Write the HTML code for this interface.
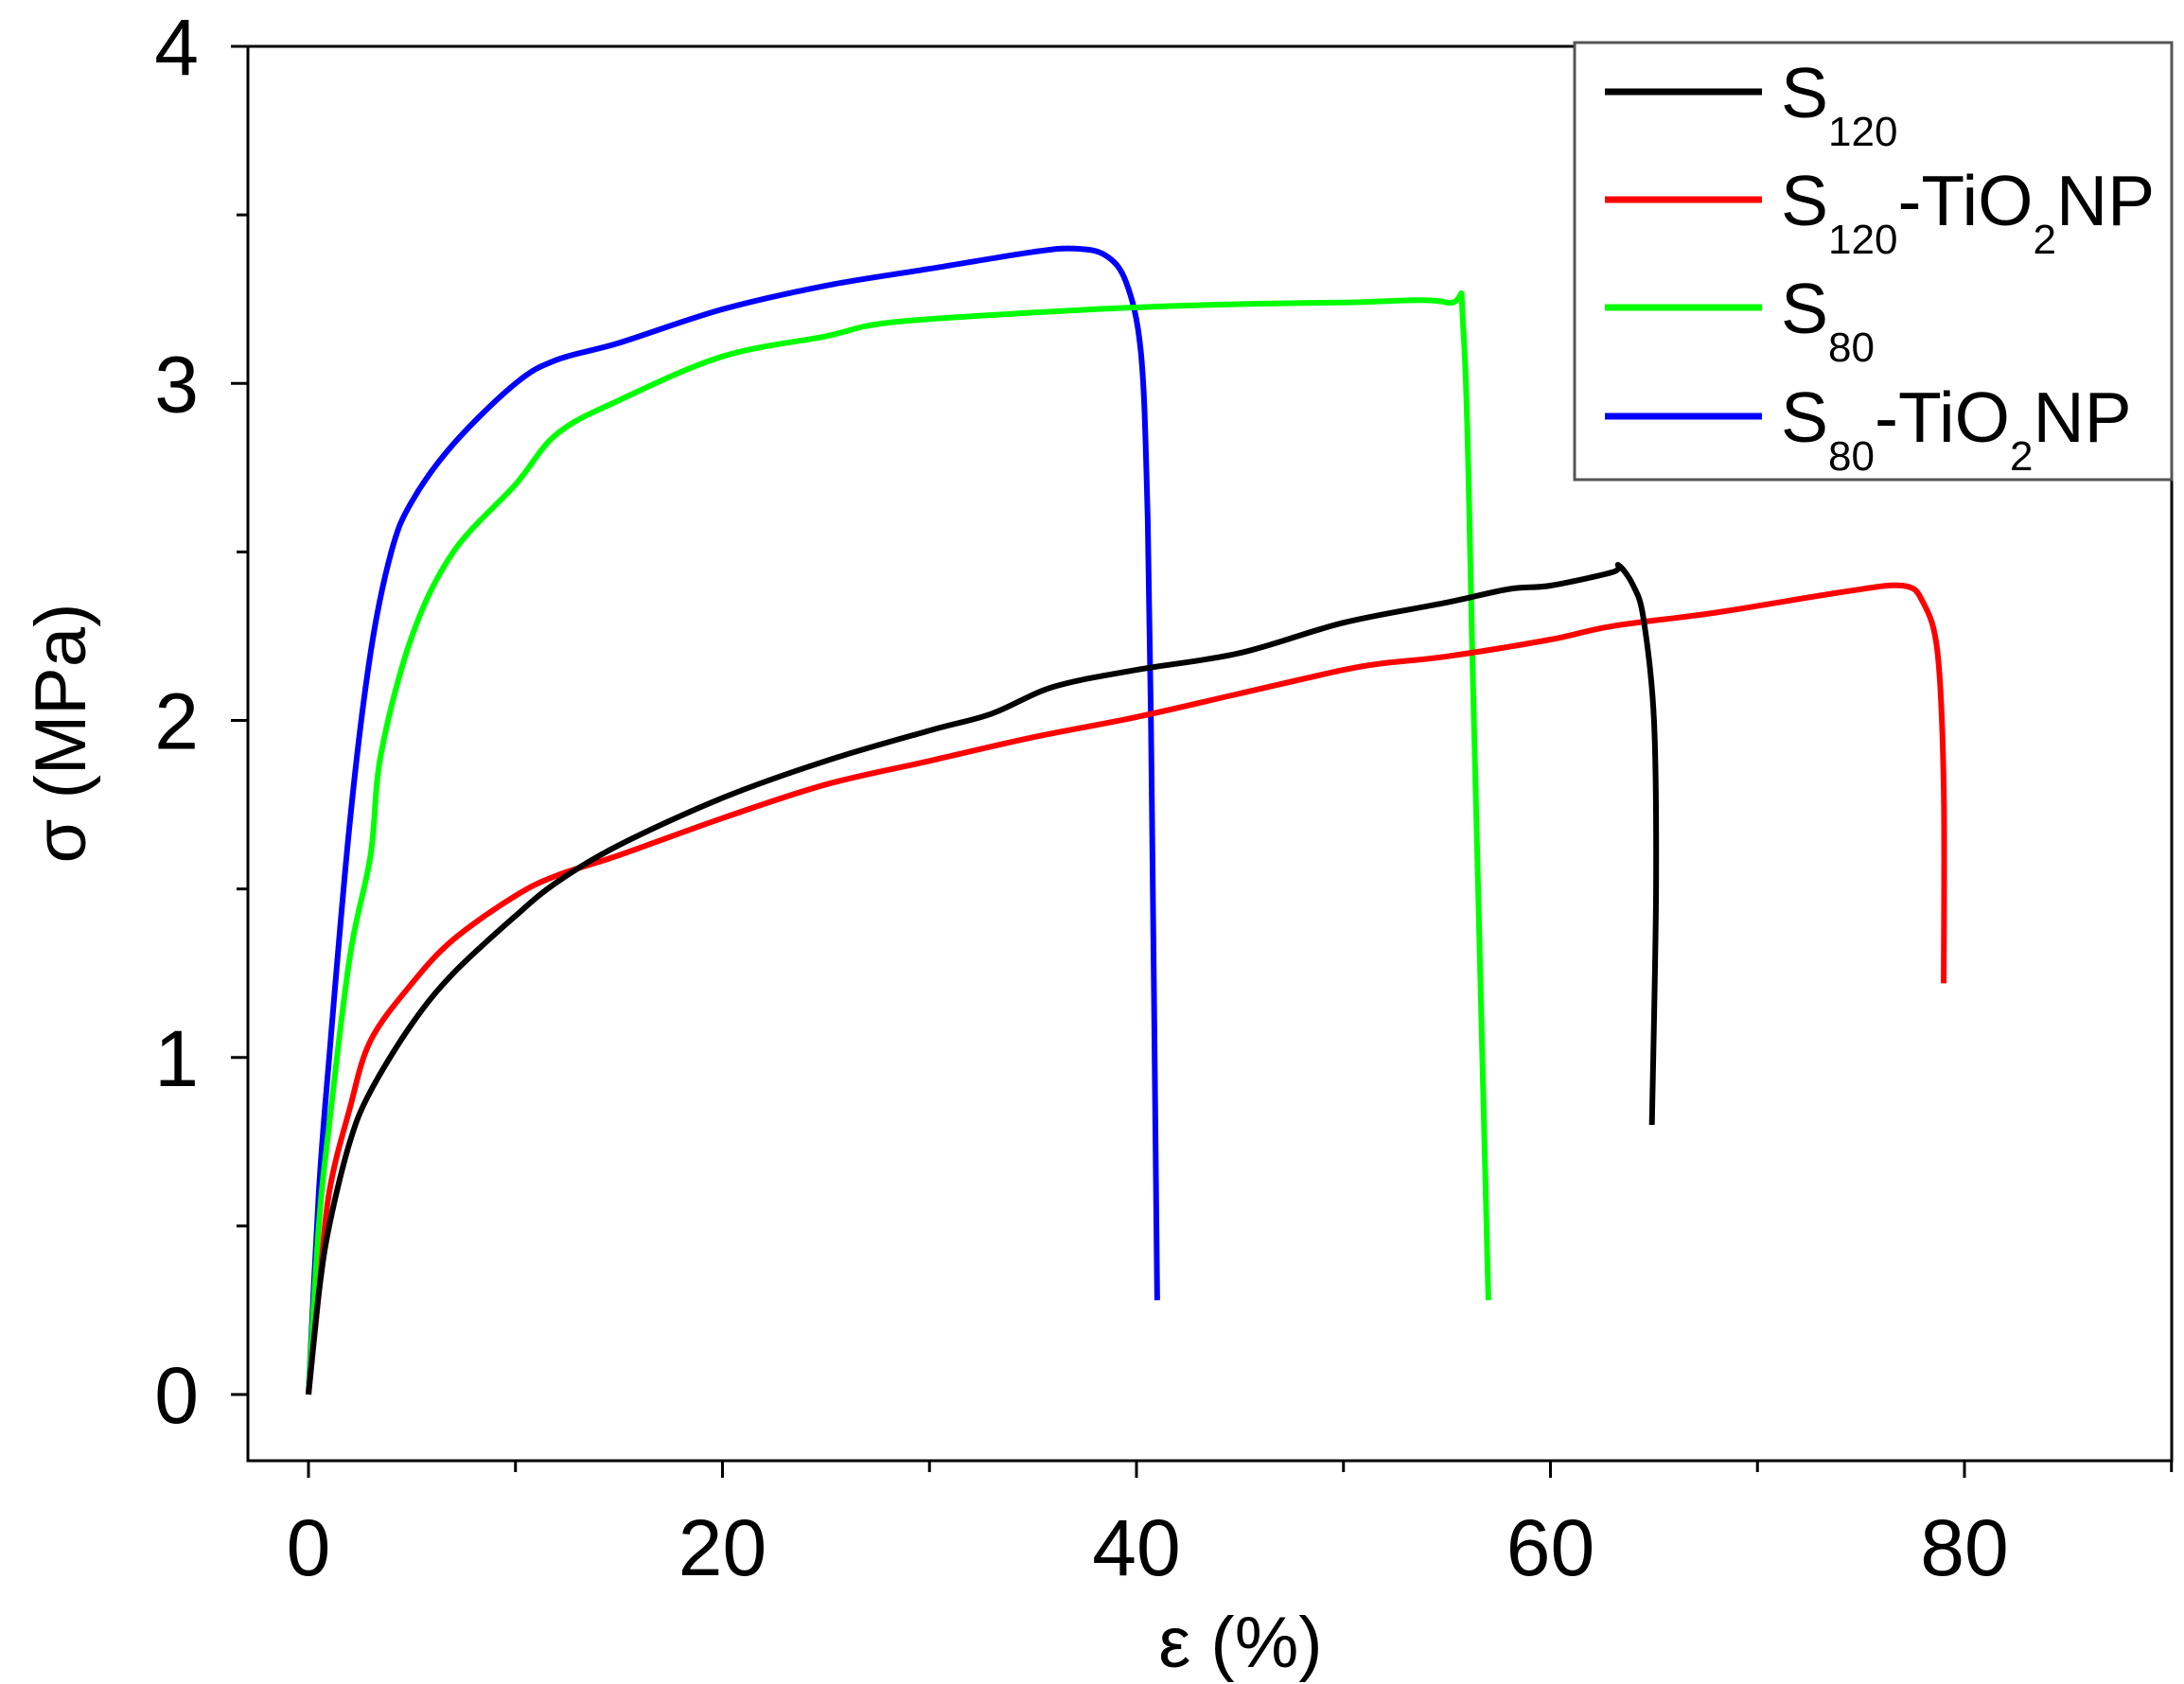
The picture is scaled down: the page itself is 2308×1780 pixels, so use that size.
<!DOCTYPE html>
<html><head><meta charset="utf-8"><style>
html,body{margin:0;padding:0;background:#fff;}
svg{display:block;font-family:"Liberation Sans",sans-serif;}
</style></head><body>
<svg id="s" width="2308" height="1780" xmlns="http://www.w3.org/2000/svg">
<rect width="2308" height="1780" fill="#fff"/>
<g id="curves" fill="none" stroke-width="6" stroke-linejoin="round"></g>
<rect x="262" y="49" width="2033" height="1495" fill="none" stroke="#000" stroke-width="3"/>
<g id="ticks" stroke="#000" stroke-width="3"></g>
<g id="labels" font-size="84" fill="#000"></g>
<text x="0" y="0" font-size="76" text-anchor="middle" transform="translate(90,775) rotate(-90)">σ (MPa)</text>
<text x="1311" y="1762" font-size="76" text-anchor="middle">ε (%)</text>
<rect x="1664" y="45" width="631" height="462" fill="#fff" stroke="#555" stroke-width="3"/>
<g stroke-width="7">
<line x1="1696" y1="97" x2="1862" y2="97" stroke="#000"/>
<line x1="1696" y1="211" x2="1862" y2="211" stroke="#f00"/>
<line x1="1696" y1="325" x2="1862" y2="325" stroke="#0f0"/>
<line x1="1696" y1="440" x2="1862" y2="440" stroke="#00f"/>
</g>
<g font-size="75" fill="#000">
<text x="1882" y="124">S<tspan font-size="44" dy="30">120</tspan></text>
<text x="1882" y="238">S<tspan font-size="44" dy="30">120</tspan><tspan dy="-30">-TiO</tspan><tspan font-size="44" dy="30">2</tspan><tspan dy="-30">NP</tspan></text>
<text x="1882" y="352">S<tspan font-size="44" dy="30">80</tspan></text>
<text x="1882" y="467">S<tspan font-size="44" dy="30">80</tspan><tspan dy="-30">-TiO</tspan><tspan font-size="44" dy="30">2</tspan><tspan dy="-30">NP</tspan></text>
</g>
</svg>
<script>
var X=function(v){return 326+v*21.875},Y=function(v){return 1474-v*356.25};
var data={
"#00f":[[0,0],[0.5,0.6],[1,1.0],[2,1.7],[3,2.2],[4,2.5],[5,2.65],[7,2.82],[10,3.0],[12,3.07],[15,3.12],[20,3.22],[25,3.29],[30,3.34],[35,3.39],[37,3.40],[38.5,3.38],[39.5,3.3],[40.2,3.1],[40.5,2.7],[40.7,2],[41,0.28]],
"#0f0":[[0,0],[0.5,0.5],[1,0.8],[2,1.3],[3,1.6],[3.5,1.9],[5,2.25],[7,2.5],[10,2.7],[12,2.85],[15,2.95],[20,3.08],[25,3.14],[28,3.18],[35,3.21],[42,3.23],[50,3.24],[55,3.24],[55.8,3.15],[56.3,2.0],[57,0.28]],
"#f00":[[0,0],[0.5,0.3],[1,0.6],[2,0.85],[3,1.05],[5,1.22],[7,1.35],[10,1.48],[12,1.54],[15,1.6],[20,1.71],[25,1.81],[30,1.88],[35,1.95],[40,2.01],[45,2.08],[50,2.15],[52,2.17],[55,2.19],[60,2.24],[63,2.28],[68,2.32],[74,2.38],[77,2.40],[78,2.35],[78.7,2.2],[79,1.8],[79,1.22]],
"#000":[[0,0],[0.5,0.3],[1,0.5],[2,0.75],[3,0.9],[5,1.1],[7,1.25],[10,1.42],[12,1.52],[15,1.63],[20,1.77],[25,1.88],[30,1.97],[33,2.02],[36,2.1],[40,2.15],[45,2.2],[50,2.29],[55,2.35],[58,2.39],[60,2.4],[63,2.44],[63.3,2.46],[64,2.4],[64.5,2.3],[65,2.0],[65.1,1.5],[64.9,0.8]]};
function smooth(pts){var p=pts.map(function(a){return [X(a[0]),Y(a[1])]});var d='M'+p[0][0].toFixed(1)+','+p[0][1].toFixed(1);
for(var i=0;i<p.length-1;i++){var p0=p[i-1]||p[i],p1=p[i],p2=p[i+1],p3=p[i+2]||p2;
var c1=[p1[0]+(p2[0]-p0[0])/6,p1[1]+(p2[1]-p0[1])/6],c2=[p2[0]-(p3[0]-p1[0])/6,p2[1]-(p3[1]-p1[1])/6];
d+='C'+c1[0].toFixed(1)+','+c1[1].toFixed(1)+' '+c2[0].toFixed(1)+','+c2[1].toFixed(1)+' '+p2[0].toFixed(1)+','+p2[1].toFixed(1);}return d;}
var g=document.getElementById('curves'),h='';
for(var c in data){h+='<path stroke="'+c+'" d="'+smooth(data[c])+'"/>';}
g.innerHTML=h;
var t='',l='';
for(var i=0;i<=8;i++){var v=i*0.5,y=Y(v);t+='<line x1="'+(i%2?250:244)+'" y1="'+y+'" x2="262" y2="'+y+'"/>';if(i%2==0)l+='<text x="210" y="'+(y+30)+'" text-anchor="end">'+(v)+'</text>';}
for(var i=0;i<=9;i++){var v=i*10,x=X(v);t+='<line x1="'+x+'" y1="1544" x2="'+x+'" y2="'+(i%2?1556:1562)+'"/>';if(i%2==0&&v<=80)l+='<text x="'+x+'" y="1665" text-anchor="middle">'+v+'</text>';}
document.getElementById('ticks').innerHTML=t;document.getElementById('labels').innerHTML=l;
</script>
</body></html>
